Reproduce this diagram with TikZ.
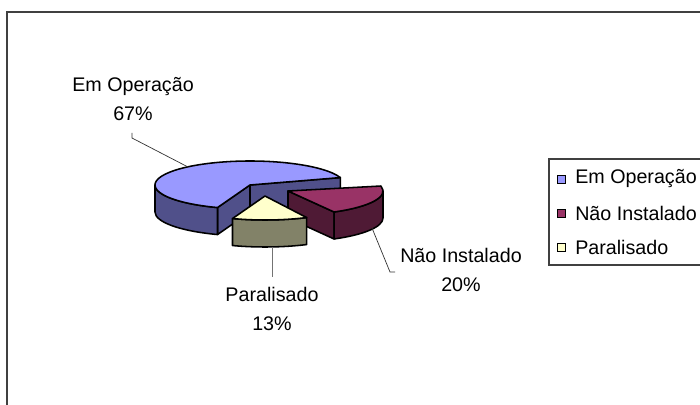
\documentclass[tikz,border=0pt]{standalone}
\usepackage{fontspec}
\setmainfont{Liberation Sans}
\usepackage{xcolor}
\usepackage{tikz}
\usetikzlibrary{calc}
\definecolor{opblue}{HTML}{9999FF}
\definecolor{opblueside}{HTML}{50508A}
\definecolor{niplum}{HTML}{993366}
\definecolor{niplumside}{HTML}{4F1A35}
\definecolor{paryel}{HTML}{FFFFCC}
\definecolor{paryelside}{HTML}{828268}
\tikzset{slice/.style={draw=black,line width=1.1pt,line join=round},
  leader/.style={black!80,line width=.5pt},
  lbl/.style={align=center,font=\fontsize{14}{20}\selectfont,inner sep=0pt},
  ell/.style={x radius=95,y radius=24}}

\begin{document}
\begin{tikzpicture}[x=.025cm, y=-.025cm]
\useasboundingbox (0,0) rectangle (700,405);
\fill[white] (0,0) rectangle (700,405);
\draw[black!75,line width=.9pt] (700,12) -- (7,12) -- (7,405);
\coordinate (B) at (250,185);
\coordinate (R) at (288,191);
\coordinate (Y) at (265,196);
\filldraw[slice,fill=opblueside] (B) -- ($(B)+(-250:95 and 24)$) -- ++(0,27) -- ($(B)+(0,27)$) -- cycle;
\filldraw[slice,fill=opblueside] (B) -- ($(B)+(-18:95 and 24)$) -- ++(0,27) -- ($(B)+(0,27)$) -- cycle;
\filldraw[slice,fill=opblueside] ($(B)+(-180:95 and 24)$) arc[ell,start angle=-180,end angle=-250] -- ++(0,27) arc[ell,start angle=-250,end angle=-180] -- cycle;
\filldraw[slice,fill=opblue] (B) -- ($(B)+(-18:95 and 24)$) arc[ell,start angle=-18,end angle=-250] -- cycle;
\filldraw[slice,fill=niplumside] (R) -- ($(R)+(-299:95 and 24)$) -- ++(0,27) -- ($(R)+(0,27)$) -- cycle;
\filldraw[slice,fill=niplumside] ($(R)+(-299:95 and 24)$) arc[ell,start angle=-299,end angle=-360] -- ++(0,27) arc[ell,start angle=-360,end angle=-299] -- cycle;
\filldraw[slice,fill=niplum] (R) -- ($(R)+(-299:95 and 24)$) arc[ell,start angle=-299,end angle=-372] -- cycle;
\filldraw[slice,fill=paryelside] ($(Y)+(-250:95 and 24)$) arc[ell,start angle=-250,end angle=-296] -- ++(0,27) arc[ell,start angle=-296,end angle=-250] -- cycle;
\filldraw[slice,fill=paryel] (Y) -- ($(Y)+(-250:95 and 24)$) arc[ell,start angle=-250,end angle=-296] -- cycle;
\node[lbl] (lbop) at (133,99) {Em Operação\\67\%};
\node[lbl] (lbni) at (461,270) {Não Instalado\\20\%};
\node[lbl] (lbpa) at (272,309) {Paralisado\\13\%};
\coordinate (opa) at (132,133);
\coordinate (opb) at (188,167);
\coordinate (nia) at (372,228);
\coordinate (nib) at (395,272);
\coordinate (paa) at (272,247);
\coordinate (pab) at (272,277);
\draw[leader] (opa) -- ++(0,5) -- (opb);
\draw[leader] (nia) -- (390,272) -- (nib);
\draw[leader,black!55] (paa) -- (pab);
\draw[black!75,line width=.9pt] (700,159) -- (549,159) -- (549,265) -- (700,265);
\foreach \nm/\col/\yy [count=\i] in {Em Operação/opblue/179,Não Instalado/niplum/213,Paralisado/paryel/247} {
  \filldraw[fill=\col,draw=black,line width=.6pt] (557,\yy-4) rectangle (565,\yy+4);
  \node[lbl,anchor=west] (lg\i) at (575,\yy) {\nm};
}
\end{tikzpicture}
\end{document}
